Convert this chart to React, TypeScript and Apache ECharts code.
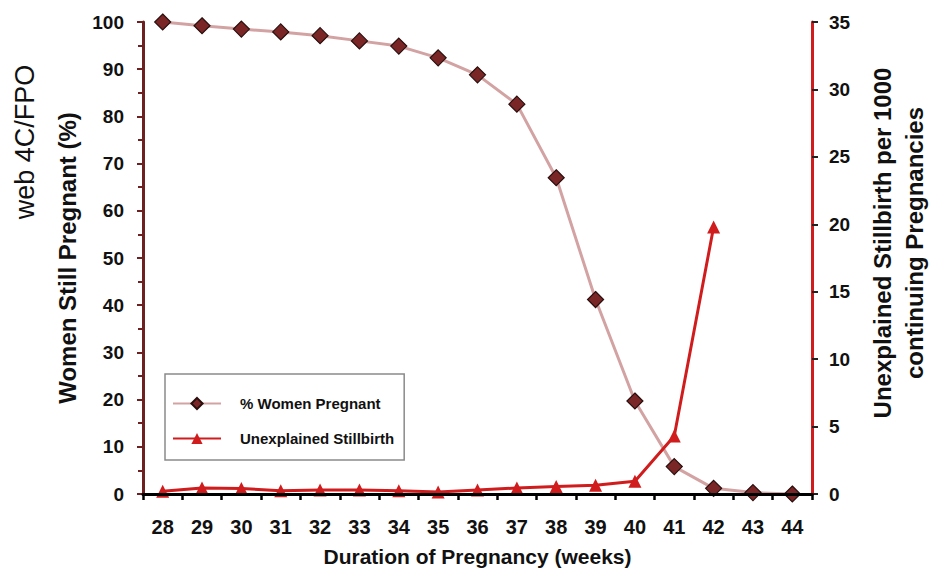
import React, { useEffect, useRef } from "react";
import * as echarts from "echarts";

const weeks = ["28", "29", "30", "31", "32", "33", "34", "35", "36", "37", "38", "39", "40", "41", "42", "43", "44"];
const womenPregnant = [100, 99.2, 98.5, 97.9, 97.1, 96.0, 94.9, 92.4, 88.8, 82.6, 67.0, 41.2, 19.7, 5.8, 1.2, 0.3, 0];
const stillbirth = [0.2, 0.45, 0.4, 0.25, 0.3, 0.3, 0.25, 0.15, 0.3, 0.45, 0.55, 0.65, 0.95, 4.3, 19.8, null, null];
const leftTicks = { min: 0, max: 100, interval: 10 };
const rightTicks = { min: 0, max: 35, interval: 5 };

const FONT = "'Liberation Sans', Arial, sans-serif";

export default function App() {
  const ref = useRef<HTMLDivElement>(null);
  useEffect(() => {
    if (!ref.current) return;
    const chart = echarts.init(ref.current, null, { renderer: "svg" });
    chart.setOption({
      animation: false,
      backgroundColor: "#ffffff",
      textStyle: { fontFamily: FONT },
      grid: { left: 143, right: 117, top: 22, bottom: 75, containLabel: false, outerBoundsMode: "none" },
      graphic: [
        {
          type: "text",
          x: 25,
          y: 142,
          rotation: Math.PI / 2,
          style: {
            text: "web 4C/FPO",
            font: "27px 'Liberation Sans', Arial, sans-serif",
            fill: "#111",
            align: "center",
            verticalAlign: "middle",
          },
        },
      ],
      legend: {
        orient: "vertical",
        left: 165,
        top: 374,
        padding: [22, 10, 14, 7],
        itemGap: 20,
        itemWidth: 48,
        itemHeight: 14,
        borderColor: "#8a8a8a",
        borderWidth: 1.5,
        backgroundColor: "#fff",
        textStyle: { fontFamily: FONT, fontWeight: "bold", fontSize: 15, color: "#111", padding: [0, 0, 0, 14] },
        data: ["% Women Pregnant", "Unexplained Stillbirth"],
      },
      xAxis: [
        {
          type: "category",
          data: weeks,
          boundaryGap: true,
          name: "Duration of Pregnancy (weeks)",
          nameLocation: "middle",
          nameGap: 52,
          nameTextStyle: { fontFamily: FONT, fontWeight: "bold", fontSize: 21, color: "#111" },
          axisLine: { lineStyle: { color: "#000", width: 3 } },
          axisTick: { show: true, length: 6, lineStyle: { color: "#000", width: 2.5 } },
          axisLabel: { margin: 23, fontFamily: FONT, fontWeight: "bold", fontSize: 20, color: "#111" },
          splitLine: { show: false },
          z: 10,
        },
        {
          type: "category",
          data: weeks,
          position: "top",
          axisLine: { lineStyle: { color: "#9a9a9a", width: 2 } },
          axisTick: { show: false },
          axisLabel: { show: false },
          splitLine: { show: false },
        },
      ],
      yAxis: [
        {
          type: "value",
          min: leftTicks.min,
          max: leftTicks.max,
          interval: leftTicks.interval,
          position: "left",
          name: "Women Still Pregnant (%)",
          nameLocation: "middle",
          nameGap: 64,
          nameRotate: 90,
          nameTextStyle: { fontFamily: FONT, fontWeight: "bold", fontSize: 24, color: "#111" },
          axisLine: { show: true, lineStyle: { color: "#6e1f1f", width: 3 } },
          axisTick: { show: true, length: 6, lineStyle: { color: "#6e1f1f", width: 2 } },
          minorTick: { show: true, splitNumber: 2, length: 5, lineStyle: { color: "#6e1f1f", width: 2 } },
          axisLabel: { margin: 19, fontFamily: FONT, fontWeight: "bold", fontSize: 19, color: "#111" },
          splitLine: { show: false },
        },
        {
          type: "value",
          min: rightTicks.min,
          max: rightTicks.max,
          interval: rightTicks.interval,
          position: "right",
          name: "Unexplained Stillbirth per 1000\ncontinuing Pregnancies",
          nameLocation: "middle",
          nameGap: 54,
          nameRotate: 90,
          nameTextStyle: {
            fontFamily: FONT,
            fontWeight: "bold",
            fontSize: 24,
            color: "#111",
            lineHeight: 32,
            padding: [0, 0, 0, 30],
          },
          axisLine: { show: true, lineStyle: { color: "#d01c1c", width: 3 } },
          axisTick: { show: true, length: 6, lineStyle: { color: "#222", width: 2 } },
          axisLabel: { margin: 17, fontFamily: FONT, fontWeight: "bold", fontSize: 19, color: "#111" },
          splitLine: { show: false },
        },
      ],
      series: [
        {
          name: "% Women Pregnant",
          type: "line",
          yAxisIndex: 0,
          data: womenPregnant,
          symbol: "diamond",
          symbolSize: 16,
          lineStyle: { color: "#d3a3a3", width: 3 },
          itemStyle: { color: "#7a2626", borderColor: "#2a0e0e", borderWidth: 1.2 },
          z: 3,
        },
        {
          name: "Unexplained Stillbirth",
          type: "line",
          yAxisIndex: 1,
          data: stillbirth,
          symbol: "triangle",
          symbolSize: 13,
          lineStyle: { color: "#d01c1c", width: 3 },
          itemStyle: { color: "#d01c1c" },
          z: 4,
        },
      ],
    });
    return () => chart.dispose();
  }, []);
  return <div ref={ref} style={{ position: "fixed", left: 0, top: 0, width: 929, height: 569 }} />;
}
